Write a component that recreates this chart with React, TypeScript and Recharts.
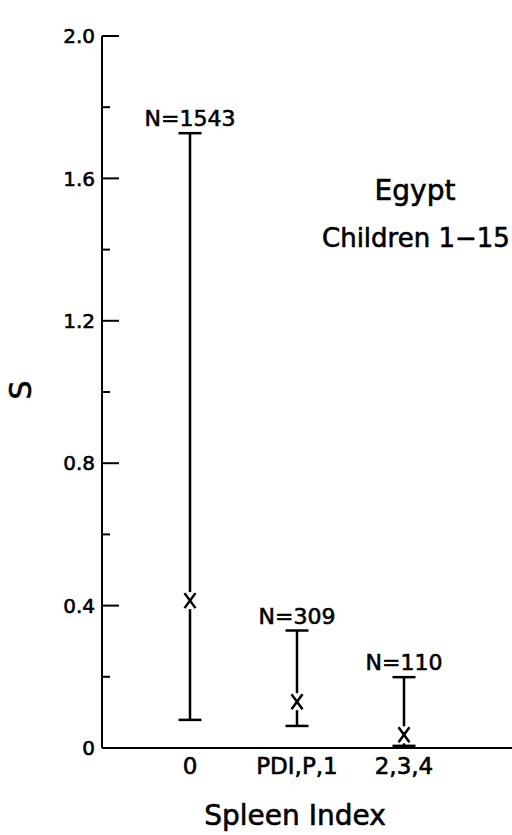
import React from 'react';
import { LineChart, Line, XAxis, YAxis, ErrorBar, LabelList, Customized } from 'recharts';

const categories = ['0', 'PDI,P,1', '2,3,4'];
const means = [0.414, 0.13, 0.037];
const lows = [0.079, 0.062, 0.006];
const highs = [1.727, 0.33, 0.199];
const counts = [1543, 309, 110];
const yTicks = [0, 0.2, 0.4, 0.6, 0.8, 1.0, 1.2, 1.4, 1.6, 1.8, 2.0];
const yTickLabels: Record<string, string> = { '0': '0', '0.4': '0.4', '0.8': '0.8', '1.2': '1.2', '1.6': '1.6', '2': '2.0' };

const data = categories.map((cat, i) => ({
  cat,
  mean: means[i],
  high: highs[i],
  low: lows[i],
  n: counts[i],
  err: [means[i] - lows[i], highs[i] - means[i]],
}));

const FONT = '"DejaVu Sans", sans-serif';
const TS = { stroke: '#000', strokeWidth: 0.6 };

const YTick = (props: any) => {
  const { x, y, payload } = props;
  const label = yTickLabels[String(payload.value)];
  const major = label !== undefined;
  return (
    <g>
      <line x1={x} y1={y} x2={x + (major ? 17 : 8)} y2={y} stroke="#000" strokeWidth={2} />
      {major && (
        <text x={x - 7} y={y} dy="0.36em" textAnchor="end" fontFamily={FONT} fontSize={20} fill="#000" {...TS}>
          {label}
        </text>
      )}
    </g>
  );
};

const XTick = (props: any) => {
  const { x, y, payload } = props;
  return (
    <text x={x} y={y + 26} textAnchor="middle" fontFamily={FONT} fontSize={23} fill="#000" {...TS}>
      {payload.value}
    </text>
  );
};

const XMark = (props: any) => {
  const { cx, cy } = props;
  if (cx == null || cy == null) return null;
  return (
    <g>
      <rect x={cx - 6} y={cy - 8.5} width={12} height={17} fill="#fff" />
      <line x1={cx - 5.5} y1={cy - 7.5} x2={cx + 5.5} y2={cy + 7.5} stroke="#000" strokeWidth={2.5} />
      <line x1={cx + 5.5} y1={cy - 7.5} x2={cx - 5.5} y2={cy + 7.5} stroke="#000" strokeWidth={2.5} />
    </g>
  );
};

const NLabel = (props: any) => {
  const { x, y, value } = props;
  return (
    <text x={x} y={y - 7} textAnchor="middle" fontFamily={FONT} fontSize={22} fill="#000" {...TS}>
      {`N=${value}`}
    </text>
  );
};

const Annotations = () => (
  <g fontFamily={FONT} fill="#000" stroke="#000" strokeWidth={0.6}>
    <text x={415} y={200} textAnchor="middle" fontSize={28}>Egypt</text>
    <text x={322} y={247} textAnchor="start" fontSize={26}>Children 1−15</text>
    <text x={295} y={825} textAnchor="middle" fontSize={28}>Spleen Index</text>
    <text x={31} y={390} textAnchor="middle" fontSize={30} transform="rotate(-90 31 390)">S</text>
  </g>
);

export default function App() {
  return (
    <div style={{ position: 'absolute', left: 0, top: 0, width: 512, height: 835, background: '#fff' }}>
      <LineChart width={512} height={835} data={data} margin={{ top: 36, right: 0, bottom: 0, left: 0 }}>
        <XAxis
          dataKey="cat"
          type="category"
          padding={{ left: 88, right: 108 }}
          axisLine={{ stroke: '#000', strokeWidth: 2 }}
          tickLine={false}
          tickSize={0}
          tickMargin={0}
          tick={<XTick />}
          height={87}
          interval={0}
        />
        <YAxis
          type="number"
          domain={[0, 2]}
          ticks={yTicks}
          interval={0}
          width={102}
          axisLine={{ stroke: '#000', strokeWidth: 2 }}
          tickLine={false}
          tickSize={0}
          tickMargin={0}
          tick={<YTick />}
        />
        <Line dataKey="high" stroke="none" dot={false} activeDot={false} isAnimationActive={false}>
          <LabelList dataKey="n" content={<NLabel />} />
        </Line>
        <Line dataKey="mean" stroke="none" dot={<XMark />} activeDot={false} isAnimationActive={false}>
          <ErrorBar dataKey="err" width={11.5} stroke="#000" strokeWidth={2.5} direction="y" />
        </Line>
        <Customized component={Annotations} />
      </LineChart>
    </div>
  );
}
